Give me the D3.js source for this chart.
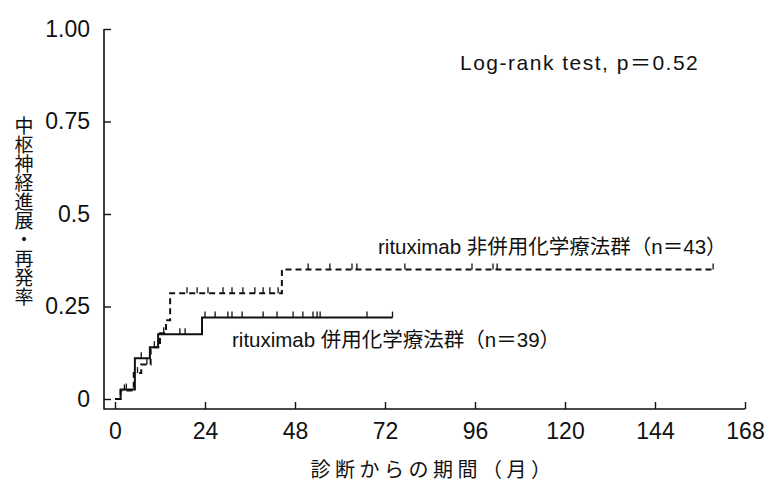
<!DOCTYPE html>
<html>
<head>
<meta charset="utf-8">
<script src="https://cdn.jsdelivr.net/npm/d3@7/dist/d3.min.js"></script>
<style>
  body { margin: 0; background: #fff; }
  svg text { fill: #111; }
  .tick text { font-family: "Liberation Sans", Arial, sans-serif; font-size: 23px; }
  .jp { font-family: "Liberation Sans", "Noto Sans CJK JP", sans-serif; }
</style>
</head>
<body>
<div id="chart"></div>
<script>
// x axis ticks (months) and y axis ticks
const monthTicks = [0, 24, 48, 72, 96, 120, 144, 168]
const rateTicks = [0, 0.25, 0.5, 0.75, 1]
const rateLabels = ["0", "0.25", "0.5", "0.75", "1.00"]

// rituximab non-combined group (n=43), dashed
const nonRtxTime = [0, 1.5, 5, 7, 9.5, 12, 13.6, 14.7, 44.5, 159.5]
const nonRtxRate = [0, 0.023, 0.07, 0.093, 0.14, 0.178, 0.213, 0.286, 0.35, 0.35]
const nonRtxCensor = [2.5, 6, 8.5, 13, 19.2, 21.9, 24.8, 28.8, 31.2, 34.1, 37.3, 39.5, 41.3, 43.5,
    51.5, 57.3, 63.2, 64.5, 77.3, 95.2, 100.8, 101.9, 159.5]

// rituximab combined group (n=39), solid
const rtxTime = [0, 1.5, 5.3, 9.3, 11.5, 23.2, 74]
const rtxRate = [0, 0.026, 0.11, 0.14, 0.175, 0.22, 0.22]
const rtxCensor = [3, 7, 10.5, 17.3, 18.7, 24, 26.7, 30.1, 31.2, 33.9, 39.5, 43.2, 47.5, 50.1,
    52.8, 53.9, 54.7, 67.2, 74]

const width = 776, height = 486

const svg = d3.select("#chart").append("svg")
    .attr("width", width)
    .attr("height", height)

const x = d3.scaleLinear().domain([0, 168]).range([115, 745])
const y = d3.scaleLinear().domain([0, 1]).range([399, 29])
const axisX = 104, axisY = 409

// axis lines (they run a bit past the zero point, like the original)
svg.append("path")
    .attr("d", `M${axisX},${y(1)}V${axisY}H${x(168)}`)
    .attr("fill", "none")
    .attr("stroke", "#111")
    .attr("stroke-width", 1.6)

const yAxis = svg.append("g")
    .attr("transform", `translate(${axisX},0)`)
    .call(d3.axisLeft(y).tickValues(rateTicks).tickSizeInner(-7).tickSizeOuter(0).tickPadding(14)
        .tickFormat((d, i) => rateLabels[i]))
yAxis.select(".domain").remove()

const xAxis = svg.append("g")
    .attr("transform", `translate(0,${axisY})`)
    .call(d3.axisBottom(x).tickValues(monthTicks).tickSizeInner(-7).tickSizeOuter(0).tickPadding(14))
xAxis.select(".domain").remove()

svg.selectAll(".tick line").attr("stroke", "#111").attr("stroke-width", 1.4)

// step curves
const line = d3.line()
    .x(d => x(d[0]))
    .y(d => y(d[1]))
    .curve(d3.curveStepAfter)

const groups = [
    { time: nonRtxTime, rate: nonRtxRate, censor: nonRtxCensor, dash: "6,4" },
    { time: rtxTime, rate: rtxRate, censor: rtxCensor, dash: null }
]

groups.forEach(g => {
    const pts = g.time.map((t, i) => [t, g.rate[i]])
    svg.append("path")
        .attr("d", line(pts))
        .attr("fill", "none")
        .attr("stroke", "#111")
        .attr("stroke-width", 2)
        .attr("stroke-dasharray", g.dash)

    // censor marks sit on the step level at that time
    const levelAt = t => g.rate[Math.max(0, d3.bisectRight(g.time, t) - 1)]
    svg.append("g")
        .selectAll("line")
        .data(g.censor)
        .join("line")
        .attr("x1", d => x(d))
        .attr("x2", d => x(d))
        .attr("y1", d => y(levelAt(d)))
        .attr("y2", d => y(levelAt(d)) - 6)
        .attr("stroke", "#111")
        .attr("stroke-width", 1.3)
})

// annotations
svg.append("text")
    .attr("class", "jp")
    .attr("x", 460).attr("y", 70)
    .style("font-size", "21px")
    .style("letter-spacing", "1.5px")
    .text("Log-rank test, p＝0.52")

svg.append("text")
    .attr("class", "jp")
    .attr("x", 378).attr("y", 254)
    .style("font-size", "20.5px")
    .text("rituximab 非併用化学療法群（n＝43）")

svg.append("text")
    .attr("class", "jp")
    .attr("x", 232).attr("y", 347)
    .style("font-size", "20.5px")
    .text("rituximab 併用化学療法群（n＝39）")

// axis titles
svg.append("text")
    .attr("class", "jp")
    .attr("x", 433).attr("y", 477)
    .attr("text-anchor", "middle")
    .style("font-size", "20px")
    .style("letter-spacing", "4.5px")
    .text("診断からの期間（月）")

svg.append("text")
    .attr("class", "jp")
    .attr("x", 22).attr("y", 211)
    .attr("text-anchor", "middle")
    .style("writing-mode", "vertical-rl")
    .style("font-size", "19px")
    .text("中枢神経進展・再発率")
</script>
</body>
</html>
